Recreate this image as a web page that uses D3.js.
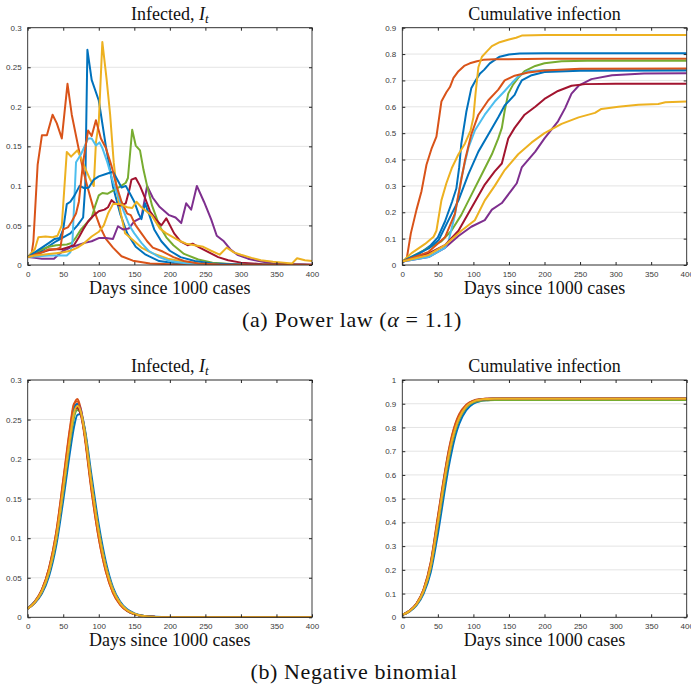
<!DOCTYPE html>
<html>
<head>
<meta charset="utf-8">
<style>
  body { margin: 0; background: #fff; }
  .axis text { font-family: "Liberation Sans", Arial, sans-serif; font-size: 8px; fill: #3a3a3a; }
  .axis .domain { display: none; }
  .axis line { stroke: #262626; }
</style>
</head>
<body>
<svg width="691" height="689"></svg>
<script src="https://cdn.jsdelivr.net/npm/d3@7"></script>
<script>

// MATLAB default line colours, cycled over the 10 runs
var colors = ["#0072BD", "#D95319", "#EDB120", "#7E2F8E", "#77AC30", "#4DBEEE", "#A2142F", "#0072BD", "#D95319", "#EDB120"];
var serif = "'Liberation Serif', 'Times New Roman', serif";

var xTicks = [0, 50, 100, 150, 200, 250, 300, 350, 400];
var yTicksInf = [0, 0.05, 0.1, 0.15, 0.2, 0.25, 0.3];
var yTicksCum9 = [0, 0.1, 0.2, 0.3, 0.4, 0.5, 0.6, 0.7, 0.8, 0.9];
var yTicksCum10 = [0, 0.1, 0.2, 0.3, 0.4, 0.5, 0.6, 0.7, 0.8, 0.9, 1];

// ---- (a) power law : infected, [day, value]
var infA1 = [[0,0.01],[10,0.014],[20,0.018],[30,0.024],[40,0.03],[50,0.035],[60,0.04],[70,0.05],[78,0.06],[81,0.1],[84,0.272],[90,0.234],[100,0.208],[110,0.15],[120,0.099],[130,0.065],[140,0.04],[152,0.023],[166,0.013],[185,0.005],[210,0.002],[250,0.0005],[400,0]];
var infA2 = [[0,0.011],[5,0.011],[8,0.03],[14,0.127],[20,0.164],[27,0.164],[35,0.19],[41,0.179],[48,0.16],[56,0.229],[62,0.19],[71,0.15],[78,0.12],[84,0.099],[93,0.07],[102,0.048],[110,0.033],[120,0.022],[132,0.011],[148,0.0055],[172,0.002],[200,0.0008],[250,0.0002],[400,0]];
var infA3 = [[0,0.01],[10,0.02],[15,0.035],[25,0.036],[35,0.035],[42,0.037],[48,0.05],[55,0.143],[61,0.137],[70,0.145],[75,0.135],[82,0.12],[88,0.108],[93,0.1],[96,0.155],[100,0.18],[105,0.282],[111,0.235],[116,0.19],[121,0.13],[126,0.09],[131,0.065],[137,0.04],[150,0.03],[160,0.022],[175,0.015],[197,0.008],[220,0.004],[250,0.001],[400,0]];
var infA4 = [[0,0.01],[10,0.009],[20,0.008],[37,0.008],[42,0.012],[50,0.018],[60,0.022],[70,0.025],[80,0.028],[90,0.03],[100,0.034],[110,0.034],[120,0.033],[127,0.049],[134,0.045],[142,0.046],[150,0.055],[160,0.06],[168,0.1],[176,0.085],[185,0.074],[199,0.063],[208,0.06],[216,0.053],[223,0.078],[230,0.07],[238,0.1],[248,0.08],[258,0.058],[266,0.037],[276,0.03],[285,0.02],[295,0.013],[310,0.008],[325,0.005],[345,0.002],[370,0.0008],[400,0.0003]];
var infA5 = [[0,0.01],[10,0.015],[20,0.02],[30,0.023],[40,0.025],[55,0.026],[62,0.028],[68,0.035],[75,0.045],[85,0.055],[90,0.06],[95,0.075],[100,0.088],[105,0.091],[112,0.09],[120,0.094],[130,0.099],[138,0.104],[141,0.11],[147,0.171],[152,0.151],[158,0.145],[163,0.12],[168,0.1],[175,0.075],[185,0.05],[195,0.035],[205,0.025],[220,0.014],[240,0.007],[260,0.003],[290,0.001],[400,0]];
var infA6 = [[0,0.01],[15,0.011],[30,0.012],[45,0.012],[55,0.012],[60,0.016],[63,0.03],[68,0.13],[75,0.14],[80,0.15],[85,0.16],[90,0.16],[96,0.151],[101,0.155],[105,0.148],[112,0.13],[120,0.105],[128,0.085],[135,0.068],[143,0.05],[150,0.04],[160,0.028],[170,0.018],[185,0.01],[200,0.005],[225,0.002],[260,0.0005],[400,0]];
var infA7 = [[0,0.01],[10,0.013],[20,0.016],[30,0.019],[40,0.02],[48,0.02],[55,0.022],[65,0.025],[72,0.035],[78,0.045],[85,0.055],[92,0.062],[100,0.068],[108,0.07],[113,0.073],[118,0.082],[123,0.078],[130,0.075],[138,0.078],[143,0.095],[146,0.108],[152,0.11],[158,0.1],[165,0.085],[172,0.068],[180,0.058],[188,0.05],[195,0.059],[206,0.04],[215,0.03],[225,0.025],[232,0.027],[242,0.022],[255,0.016],[268,0.01],[282,0.006],[300,0.003],[330,0.001],[400,0.0002]];
var infA8 = [[0,0.01],[10,0.016],[20,0.022],[30,0.028],[38,0.033],[45,0.034],[50,0.045],[55,0.077],[60,0.08],[66,0.088],[73,0.1],[80,0.097],[86,0.098],[93,0.108],[100,0.112],[110,0.115],[120,0.118],[126,0.108],[132,0.098],[138,0.1],[144,0.09],[150,0.08],[156,0.065],[160,0.058],[165,0.078],[170,0.066],[178,0.045],[188,0.03],[200,0.018],[215,0.01],[235,0.005],[260,0.002],[300,0.0005],[400,0]];
var infA9 = [[0,0.01],[10,0.013],[20,0.016],[30,0.02],[40,0.02],[46,0.022],[50,0.045],[57,0.048],[62,0.055],[68,0.065],[72,0.08],[78,0.13],[85,0.17],[90,0.163],[96,0.183],[103,0.16],[110,0.148],[118,0.125],[125,0.1],[132,0.08],[140,0.065],[145,0.063],[152,0.05],[160,0.04],[168,0.03],[176,0.022],[190,0.017],[205,0.01],[220,0.005],[240,0.002],[270,0.0005],[400,0]];
var infA10 = [[0,0.01],[10,0.012],[20,0.013],[30,0.014],[40,0.015],[50,0.016],[60,0.018],[70,0.022],[80,0.028],[90,0.036],[100,0.042],[107,0.05],[113,0.065],[120,0.077],[130,0.077],[140,0.073],[147,0.072],[153,0.08],[160,0.073],[167,0.068],[175,0.062],[186,0.046],[195,0.04],[205,0.035],[215,0.03],[223,0.027],[235,0.025],[247,0.023],[258,0.018],[270,0.013],[280,0.022],[290,0.016],[300,0.013],[315,0.009],[328,0.006],[345,0.004],[360,0.003],[372,0.002],[379,0.0085],[390,0.006],[400,0.005]];

// ---- (a) power law : cumulative
var cumA1 = [[0,0.01],[20,0.035],[40,0.075],[50,0.105],[60,0.165],[70,0.24],[76,0.29],[80,0.37],[83,0.46],[90,0.58],[97,0.67],[103,0.7],[109,0.725],[115,0.74],[123,0.765],[137,0.79],[150,0.798],[165,0.802],[200,0.803],[400,0.803]];
var cumA2 = [[0,0.013],[6,0.02],[12,0.12],[20,0.21],[27,0.28],[34,0.38],[41,0.44],[48,0.487],[55,0.62],[62,0.655],[67,0.675],[72,0.71],[79,0.735],[87,0.755],[95,0.765],[105,0.773],[114,0.778],[130,0.78],[200,0.782],[400,0.782]];
var cumA3 = [[0,0.013],[13,0.045],[32,0.08],[44,0.107],[48,0.13],[55,0.245],[62,0.31],[70,0.37],[79,0.42],[88,0.46],[96,0.51],[100,0.56],[103,0.65],[107,0.75],[112,0.79],[119,0.81],[126,0.83],[137,0.845],[150,0.855],[160,0.862],[168,0.87],[200,0.872],[400,0.872]];
var cumA4 = [[0,0.013],[37,0.03],[60,0.065],[79,0.11],[97,0.145],[116,0.17],[126,0.21],[140,0.235],[154,0.285],[161,0.31],[168,0.37],[187,0.43],[200,0.48],[219,0.545],[229,0.595],[238,0.65],[248,0.68],[266,0.705],[295,0.72],[340,0.726],[400,0.727]];
var cumA5 = [[0,0.013],[37,0.065],[55,0.09],[69,0.13],[83,0.19],[97,0.265],[112,0.345],[126,0.42],[135,0.48],[140,0.52],[144,0.585],[149,0.65],[156,0.685],[163,0.71],[172,0.735],[187,0.755],[200,0.765],[224,0.773],[260,0.775],[400,0.775]];
var cumA6 = [[0,0.013],[37,0.03],[60,0.065],[65,0.09],[74,0.19],[83,0.33],[93,0.445],[102,0.51],[116,0.57],[130,0.62],[144,0.66],[154,0.69],[163,0.715],[177,0.735],[200,0.74],[400,0.742]];
var cumA7 = [[0,0.013],[37,0.044],[60,0.075],[79,0.13],[97,0.215],[116,0.305],[130,0.355],[140,0.385],[149,0.48],[158,0.52],[172,0.57],[187,0.6],[200,0.63],[219,0.66],[238,0.68],[257,0.686],[300,0.687],[400,0.687]];
var cumA8 = [[0,0.013],[37,0.063],[51,0.094],[65,0.17],[79,0.245],[93,0.345],[107,0.43],[121,0.495],[135,0.56],[144,0.605],[158,0.645],[163,0.675],[168,0.7],[182,0.72],[200,0.732],[250,0.737],[400,0.738]];
var cumA9 = [[0,0.013],[37,0.05],[60,0.105],[74,0.195],[81,0.295],[88,0.395],[97,0.495],[107,0.57],[121,0.625],[135,0.665],[144,0.7],[158,0.718],[177,0.73],[200,0.738],[250,0.744],[400,0.745]];
var cumA10 = [[0,0.013],[37,0.038],[60,0.075],[83,0.13],[102,0.17],[116,0.245],[130,0.3],[144,0.36],[163,0.42],[182,0.465],[200,0.5],[224,0.535],[248,0.56],[271,0.577],[280,0.592],[304,0.6],[332,0.608],[360,0.611],[370,0.617],[400,0.62]];

// ---- (b) negative binomial, sampled on a common day grid
var daysB = [0, 10, 20, 30, 40, 50, 60, 65, 70, 75, 80, 90, 100, 110, 120, 130, 140, 150, 160, 180, 200, 250, 300, 400];

var infB1 = [0.011,0.018,0.03,0.052,0.09,0.148,0.212,0.24,0.256,0.257,0.24,0.178,0.117,0.07,0.038,0.02,0.01,0.005,0.0024,0.0006,0.0002,0,0,0];
var infB2 = [0.011,0.02,0.035,0.062,0.106,0.172,0.24,0.268,0.276,0.262,0.232,0.16,0.1,0.058,0.031,0.016,0.008,0.004,0.0018,0.0005,0.0001,0,0,0];
var infB3 = [0.011,0.019,0.033,0.058,0.099,0.162,0.228,0.256,0.266,0.259,0.236,0.168,0.108,0.064,0.035,0.018,0.009,0.0045,0.002,0.0005,0.0001,0,0,0];
var infB4 = [0.011,0.019,0.032,0.057,0.098,0.16,0.228,0.258,0.27,0.262,0.238,0.168,0.107,0.063,0.034,0.018,0.009,0.0045,0.002,0.0005,0.0001,0,0,0];
var infB5 = [0.011,0.019,0.032,0.056,0.096,0.158,0.224,0.252,0.262,0.258,0.238,0.17,0.11,0.065,0.035,0.018,0.009,0.0045,0.002,0.0005,0.0001,0,0,0];
var infB6 = [0.011,0.019,0.033,0.058,0.1,0.163,0.23,0.258,0.266,0.257,0.234,0.166,0.106,0.063,0.034,0.018,0.009,0.0045,0.002,0.0005,0.0001,0,0,0];
var infB7 = [0.011,0.019,0.034,0.06,0.102,0.166,0.233,0.26,0.265,0.255,0.232,0.164,0.105,0.062,0.033,0.017,0.0085,0.004,0.0019,0.0005,0.0001,0,0,0];
var infB8 = [0.011,0.02,0.034,0.06,0.103,0.168,0.236,0.263,0.27,0.259,0.233,0.163,0.104,0.061,0.033,0.017,0.0085,0.004,0.0019,0.0005,0.0001,0,0,0];
var infB9 = [0.011,0.02,0.035,0.062,0.107,0.174,0.243,0.27,0.273,0.258,0.229,0.158,0.1,0.058,0.031,0.016,0.008,0.004,0.0018,0.0005,0.0001,0,0,0];
var infB10 = [0.011,0.019,0.033,0.058,0.1,0.163,0.23,0.258,0.267,0.259,0.235,0.167,0.107,0.063,0.034,0.018,0.009,0.0045,0.002,0.0005,0.0001,0,0,0];

var cumB1 = [0.01,0.024,0.05,0.1,0.19,0.35,0.54,0.63,0.705,0.768,0.815,0.873,0.9,0.911,0.915,0.917,0.918,0.918,0.918,0.918,0.918,0.918,0.918,0.918];
var cumB2 = [0.01,0.027,0.058,0.118,0.232,0.425,0.615,0.7,0.768,0.82,0.856,0.896,0.913,0.919,0.921,0.922,0.923,0.923,0.923,0.923,0.923,0.923,0.923,0.923];
var cumB3 = [0.01,0.026,0.055,0.111,0.215,0.398,0.59,0.675,0.745,0.8,0.84,0.889,0.909,0.917,0.92,0.921,0.921,0.921,0.921,0.921,0.921,0.921,0.921,0.921];
var cumB4 = [0.01,0.026,0.055,0.11,0.213,0.395,0.586,0.672,0.743,0.799,0.84,0.889,0.91,0.918,0.921,0.922,0.922,0.922,0.922,0.922,0.922,0.922,0.922,0.922];
var cumB5 = [0.01,0.025,0.054,0.108,0.208,0.386,0.576,0.663,0.735,0.792,0.834,0.885,0.906,0.913,0.915,0.916,0.916,0.916,0.916,0.916,0.916,0.916,0.916,0.916];
var cumB6 = [0.01,0.026,0.056,0.112,0.218,0.402,0.594,0.679,0.748,0.802,0.842,0.89,0.91,0.918,0.92,0.921,0.921,0.921,0.921,0.921,0.921,0.921,0.921,0.921];
var cumB7 = [0.01,0.026,0.056,0.113,0.22,0.405,0.597,0.682,0.75,0.803,0.843,0.89,0.91,0.917,0.919,0.92,0.92,0.92,0.92,0.92,0.92,0.92,0.92,0.92];
var cumB8 = [0.01,0.027,0.057,0.115,0.225,0.413,0.604,0.689,0.757,0.81,0.848,0.892,0.911,0.918,0.92,0.921,0.921,0.921,0.921,0.921,0.921,0.921,0.921,0.921];
var cumB9 = [0.01,0.027,0.058,0.118,0.23,0.42,0.61,0.695,0.763,0.815,0.852,0.894,0.912,0.919,0.921,0.922,0.922,0.922,0.922,0.922,0.922,0.922,0.922,0.922];
var cumB10 = [0.01,0.026,0.055,0.111,0.216,0.4,0.592,0.677,0.746,0.8,0.84,0.889,0.909,0.917,0.92,0.921,0.921,0.921,0.921,0.921,0.921,0.921,0.921,0.921];

var svg = d3.select("svg");
var clipId = 0;

function panel(p) {
  var x = d3.scaleLinear().domain([0, 400]).range([p.left, p.right]);
  var y = d3.scaleLinear().domain([0, p.ymax]).range([p.bottom, p.top]);
  var g = svg.append("g");
  var fmt = d3.format("~g");

  // horizontal grid
  g.append("g")
    .selectAll("line")
    .data(p.yticks)
    .enter().append("line")
    .attr("x1", p.left).attr("x2", p.right)
    .attr("y1", function(d) { return y(d); })
    .attr("y2", function(d) { return y(d); })
    .attr("stroke", "#e4e4e4")
    .attr("stroke-width", 1);

  clipId++;
  g.append("clipPath").attr("id", "clip" + clipId)
    .append("rect")
    .attr("x", p.left).attr("y", p.top)
    .attr("width", p.right - p.left).attr("height", p.bottom - p.top);

  var line = d3.line()
    .x(function(d) { return x(d[0]); })
    .y(function(d) { return y(d[1]); });
  if (p.smooth) line.curve(d3.curveMonotoneX);

  g.append("g")
    .attr("clip-path", "url(#clip" + clipId + ")")
    .selectAll("path")
    .data(p.series)
    .enter().append("path")
    .attr("d", line)
    .attr("fill", "none")
    .attr("stroke", function(d, i) { return colors[i]; })
    .attr("stroke-width", 2)
    .attr("stroke-linejoin", "round");

  // axes, ticks pointing inward on all four sides
  g.append("g").attr("class", "axis")
    .attr("transform", "translate(0," + p.bottom + ")")
    .call(d3.axisBottom(x).tickValues(xTicks).tickSize(-3).tickPadding(6.5).tickFormat(fmt));
  g.append("g").attr("class", "axis")
    .attr("transform", "translate(0," + p.top + ")")
    .call(d3.axisTop(x).tickValues(xTicks).tickSize(-3).tickFormat(""));
  g.append("g").attr("class", "axis")
    .attr("transform", "translate(" + p.left + ",0)")
    .call(d3.axisLeft(y).tickValues(p.yticks).tickSize(-3).tickPadding(6).tickFormat(fmt));
  g.append("g").attr("class", "axis")
    .attr("transform", "translate(" + p.right + ",0)")
    .call(d3.axisRight(y).tickValues(p.yticks).tickSize(-3).tickFormat(""));

  g.append("rect")
    .attr("x", p.left).attr("y", p.top)
    .attr("width", p.right - p.left).attr("height", p.bottom - p.top)
    .attr("fill", "none")
    .attr("stroke", "#262626")
    .attr("stroke-width", 0.9);

  var cx = (p.left + p.right) / 2;
  var t = g.append("text")
    .attr("x", cx).attr("y", p.top - 8)
    .attr("text-anchor", "middle")
    .attr("font-family", serif)
    .attr("font-size", 18)
    .attr("fill", "#111");
  if (p.italicTitle) {
    t.append("tspan").text("Infected, ");
    t.append("tspan").attr("font-style", "italic").text("I");
    t.append("tspan").attr("font-style", "italic").attr("font-size", 13).attr("dy", 3).text("t");
  } else {
    t.text(p.title);
  }

  g.append("text")
    .attr("x", cx).attr("y", p.bottom + 28.5)
    .attr("text-anchor", "middle")
    .attr("font-family", serif)
    .attr("font-size", 18)
    .attr("fill", "#111")
    .text("Days since 1000 cases");
}

function gridSeries(vals) {
  return d3.zip(daysB, vals);
}

var topY = 27.7, botY = 265, top2 = 380, bot2 = 617.3;
var L1 = 27.7, R1 = 312, L2 = 402.3, R2 = 686.7;

panel({ left: L1, right: R1, top: topY, bottom: botY, ymax: 0.3, yticks: yTicksInf, italicTitle: true,
  series: [infA1, infA2, infA3, infA4, infA5, infA6, infA7, infA8, infA9, infA10] });
panel({ left: L2, right: R2, top: topY, bottom: botY, ymax: 0.9, yticks: yTicksCum9, title: "Cumulative infection",
  series: [cumA1, cumA2, cumA3, cumA4, cumA5, cumA6, cumA7, cumA8, cumA9, cumA10] });
panel({ left: L1, right: R1, top: top2, bottom: bot2, ymax: 0.3, yticks: yTicksInf, italicTitle: true, smooth: true,
  series: [infB1, infB2, infB3, infB4, infB5, infB6, infB7, infB8, infB9, infB10].map(gridSeries) });
panel({ left: L2, right: R2, top: top2, bottom: bot2, ymax: 1, yticks: yTicksCum10, title: "Cumulative infection", smooth: true,
  series: [cumB1, cumB2, cumB3, cumB4, cumB5, cumB6, cumB7, cumB8, cumB9, cumB10].map(gridSeries) });

// sub-figure captions
var capA = svg.append("text")
  .attr("x", 352).attr("y", 327)
  .attr("text-anchor", "middle")
  .attr("font-family", serif)
  .attr("font-size", 22)
  .attr("letter-spacing", 0.6)
  .attr("fill", "#111");
capA.append("tspan").text("(a) Power law (");
capA.append("tspan").attr("font-style", "italic").text("α");
capA.append("tspan").text(" = 1.1)");

svg.append("text")
  .attr("x", 354).attr("y", 679)
  .attr("text-anchor", "middle")
  .attr("font-family", serif)
  .attr("font-size", 22)
  .attr("letter-spacing", 0.6)
  .attr("fill", "#111")
  .text("(b) Negative binomial");

</script>
</body>
</html>
